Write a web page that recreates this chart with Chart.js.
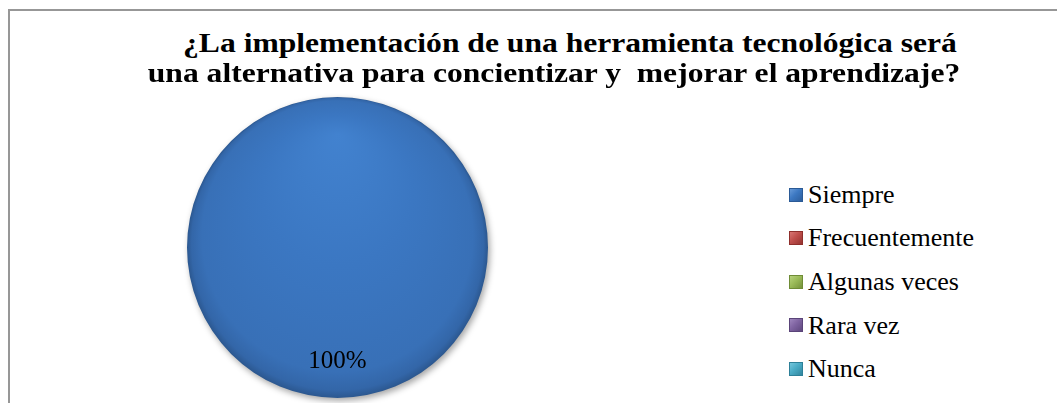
<!DOCTYPE html>
<html><head><meta charset="utf-8">
<script src="https://cdn.jsdelivr.net/npm/chart.js@4.4.0/dist/chart.umd.min.js"></script>
<style>
html,body{margin:0;padding:0;background:#fff;}
body{width:1057px;height:403px;overflow:hidden;position:relative;font-family:"Liberation Serif","Times New Roman",serif;}
#frame{position:absolute;left:8px;top:9px;width:1200px;height:600px;border:2px solid #979797;box-sizing:border-box;}
.tl{position:absolute;white-space:pre;font-family:"Liberation Serif","Times New Roman",serif;font-weight:bold;font-size:27px;line-height:27px;color:#000;transform:translateX(-50%) scaleX(1.17);}
#chartBox{position:absolute;left:177px;top:87px;width:321px;height:321px;}
.mk{position:absolute;left:789px;width:14px;height:14px;box-sizing:border-box;}
.lt{position:absolute;left:808px;font-size:26px;line-height:26px;white-space:pre;color:#000;}
</style>
</head>
<body>
<div id="frame"></div>
<div id="chartBox"><canvas id="c" width="321" height="321"></canvas></div>
<script>
// ---- data ----
const titleLines = ["¿La implementación de una herramienta tecnológica será", "una alternativa para concientizar y  mejorar el aprendizaje?"];
const categories = ["Siempre", "Frecuentemente", "Algunas veces", "Rara vez", "Nunca"];
const values = [100, 0, 0, 0, 0];
const colors = ["#3c78c2", "#c0504d", "#9bbb59", "#8064a2", "#4bacc6"];
const darkColors = ["#2b5a96", "#8f2f2c", "#6f8c36", "#5a4479", "#2e8098"];
const lightColors = ["#6fa0dc", "#dc7d7a", "#bcd683", "#a48cc2", "#7ccbe0"];

// ---- title (html text) ----
const titleCenters = [569.5, 553.5];
const titleTops = [29.5, 59.5];
titleLines.forEach((t, i) => {
  const d = document.createElement('div');
  d.className = 'tl';
  d.textContent = t;
  d.style.left = titleCenters[i] + 'px';
  d.style.top = titleTops[i] + 'px';
  document.body.appendChild(d);
});

// ---- legend (html) ----
categories.forEach((name, i) => {
  const cy = 194.5 + 43.6 * i;
  const m = document.createElement('div');
  m.className = 'mk';
  m.style.top = (cy - 7) + 'px';
  m.style.background = `linear-gradient(135deg, ${lightColors[i]} 0%, ${colors[i]} 45%, ${darkColors[i]} 100%)`;
  m.style.boxShadow = `inset 0 0 0 1px ${darkColors[i]}`;
  document.body.appendChild(m);
  const t = document.createElement('div');
  t.className = 'lt';
  t.style.top = (cy - 12.8) + 'px';
  t.textContent = name;
  document.body.appendChild(t);
});

// ---- chart ----
const shadowPlugin = {
  id: 'shadow',
  beforeDatasetDraw(chart) {
    const ctx = chart.ctx;
    ctx.save();
    ctx.shadowColor = 'rgba(0,0,0,0.35)';
    ctx.shadowBlur = 6;
    ctx.shadowOffsetX = 2;
    ctx.shadowOffsetY = 3;
  },
  afterDatasetDraw(chart) { chart.ctx.restore(); }
};
const labelPlugin = {
  id: 'pctLabels',
  afterDatasetsDraw(chart) {
    const ctx = chart.ctx;
    const meta = chart.getDatasetMeta(0);
    const data = chart.data.datasets[0].data;
    const total = data.reduce((a, b) => a + b, 0);
    ctx.save();
    ctx.font = '25px "Liberation Serif", "Times New Roman", serif';
    ctx.fillStyle = '#000';
    ctx.textAlign = 'center';
    ctx.textBaseline = 'middle';
    meta.data.forEach((arc, i) => {
      if (!data[i]) return;
      const p = arc.getProps(['x', 'y', 'startAngle', 'endAngle', 'outerRadius'], true);
      const mid = (p.startAngle + p.endAngle) / 2;
      const rr = p.outerRadius * 0.76;
      ctx.fillText(Math.round(data[i] / total * 100) + '%', p.x + Math.cos(mid) * rr, p.y + Math.sin(mid) * rr);
    });
    ctx.restore();
  }
};

function pieFill(context) {
  const i = context.dataIndex;
  const chart = context.chart;
  const a = chart.chartArea;
  if (!a || i !== 0) return colors[i];
  const cx = (a.left + a.right) / 2, cy = (a.top + a.bottom) / 2;
  const r = Math.min(a.right - a.left, a.bottom - a.top) / 2;
  const g = chart.ctx.createRadialGradient(cx, cy - 0.75 * r, 0, cx, cy, r);
  g.addColorStop(0, '#4282cf');
  g.addColorStop(0.5, '#3b77c2');
  g.addColorStop(0.9, '#3870b7');
  g.addColorStop(0.97, '#3366a8');
  g.addColorStop(1, '#2b578f');
  return g;
}

new Chart(document.getElementById('c'), {
  type: 'pie',
  data: {
    labels: categories,
    datasets: [{
      data: values,
      backgroundColor: pieFill,
      borderWidth: 0
    }]
  },
  options: {
    responsive: false,
    animation: false,
    layout: { padding: 10 },
    plugins: {
      legend: { display: false },
      tooltip: { enabled: false },
      title: { display: false }
    }
  },
  plugins: [shadowPlugin, labelPlugin]
});
</script>
</body></html>
